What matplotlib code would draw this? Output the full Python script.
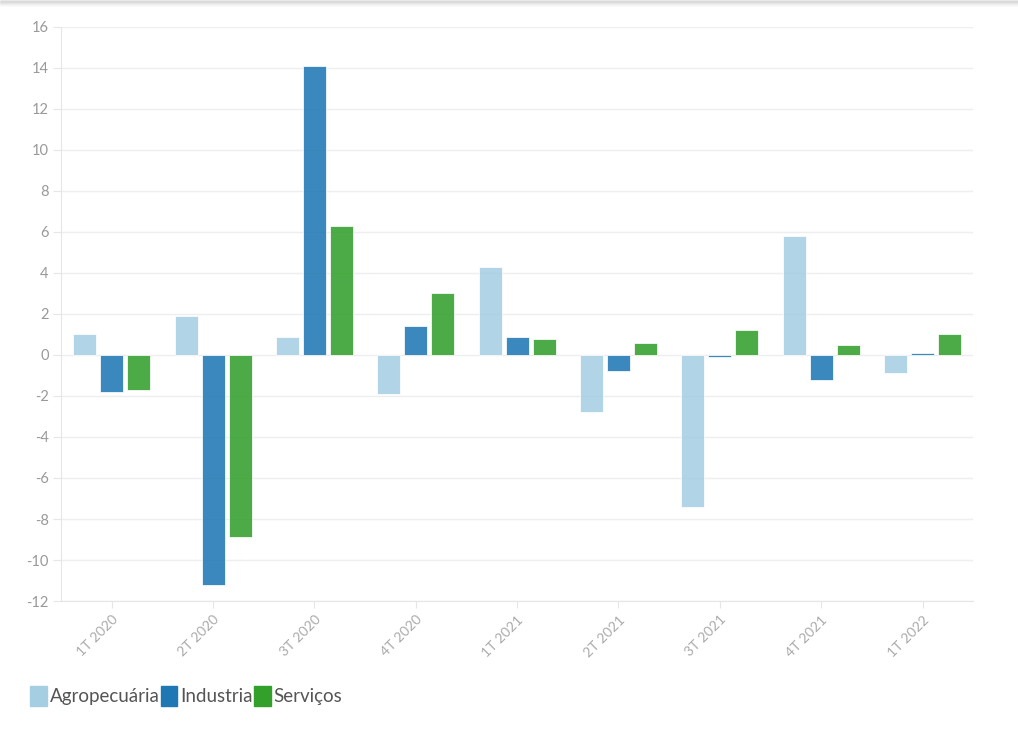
import numpy as np
import matplotlib.pyplot as plt
from matplotlib.patches import Patch

# trimestres e variacao por setor
quarters = ['1T 2020', '2T 2020', '3T 2020', '4T 2020', '1T 2021',
            '2T 2021', '3T 2021', '4T 2021', '1T 2022']
agro = [1.0, 1.9, 0.9, -1.9, 4.3, -2.8, -7.4, 5.8, -0.9]
industria = [-1.8, -11.2, 14.1, 1.4, 0.9, -0.8, -0.1, -1.2, 0.1]
servicos = [-1.7, -8.9, 6.3, 3.0, 0.8, 0.6, 1.2, 0.5, 1.0]

names = ['Agropecuária', 'Industria', 'Serviços']
colors = ['#a6cee3', '#1f78b4', '#33a02c']

plt.rcParams['font.family'] = ['Lato', 'DejaVu Sans']
plt.rcParams['axes.unicode_minus'] = False

fig = plt.figure(figsize=(10.18, 7.38), dpi=100)
ax = fig.add_axes([0.06, 0.1856, 0.896, 0.778])

x = np.arange(len(quarters))
offset = 0.266
width = 0.227
for i, vals in enumerate([agro, industria, servicos]):
    ax.bar(x + (i - 1) * offset, vals, width, color=colors[i], alpha=0.88,
           edgecolor='white', linewidth=0.6, zorder=3)

ax.set_xlim(-0.5, len(quarters) - 0.5)
ax.set_ylim(-12, 16)
ax.set_yticks(range(-12, 17, 2))
ax.set_xticks(x)
ax.set_xticklabels(quarters, rotation=45, ha='right', rotation_mode='anchor')

ax.grid(axis='y', color='#eeeeee', linewidth=1, zorder=0)
for s in ['top', 'right']:
    ax.spines[s].set_visible(False)
ax.spines['left'].set_color('#e6e6e6')
ax.spines['bottom'].set_color('#e6e6e6')
ax.tick_params(axis='y', length=6, color='#e6e6e6', labelsize=10.5, labelcolor='#999999', pad=3)
ax.tick_params(axis='x', length=5, color='#e6e6e6', labelsize=10, labelcolor='#aaaaaa', pad=4)

handles = [Patch(facecolor=c, edgecolor=c, label=n) for c, n in zip(colors, names)]
fig.legend(handles=handles, loc='lower left', bbox_to_anchor=(0.013, 0.02), ncol=3,
           frameon=False, fontsize=13.5, labelcolor='#555555', handlelength=0.9,
           handleheight=1.3, handletextpad=0.15, columnspacing=0.05)

# sombra fraca no topo
for k in range(6):
    fig.patches.append(plt.Rectangle((0, 1 - (k + 1) / 738), 1, 1 / 738,
                                     transform=fig.transFigure, color='#000000',
                                     alpha=0.05 * (6 - k) / 6, zorder=0))

fig.savefig('out.png', dpi=100)
